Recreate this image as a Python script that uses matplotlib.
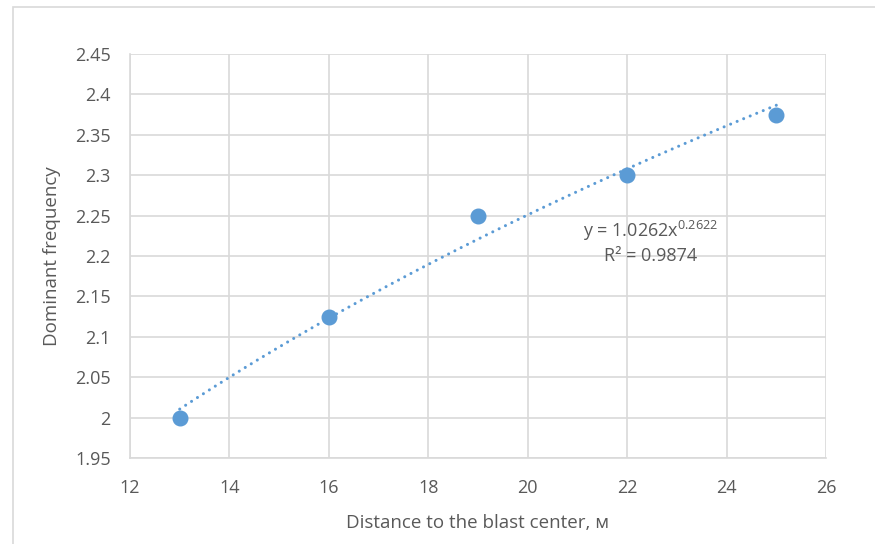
import numpy as np
import matplotlib
matplotlib.use('Agg')
import matplotlib.pyplot as plt
from matplotlib.patches import Rectangle

# data
distance = [13, 16, 19, 22, 25]
frequency = [2.0, 2.125, 2.25, 2.3, 2.375]

# power trendline as shown on the chart: y = a * x^b
trend_a = 1.0262
trend_b = 0.2622
eq_text = 'y = 1.0262x$^{0.2622}$'
r2_text = 'R² = 0.9874'

x_ticks = [12, 14, 16, 18, 20, 22, 24, 26]
y_ticks = [1.95, 2.0, 2.05, 2.1, 2.15, 2.2, 2.25, 2.3, 2.35, 2.4, 2.45]

blue = '#5b9bd5'
grid_col = '#d9d9d9'
text_col = '#595959'

plt.rcParams['font.family'] = ['Open Sans', 'DejaVu Sans']
plt.rcParams['mathtext.fontset'] = 'custom'
plt.rcParams['mathtext.rm'] = 'Open Sans'

fig = plt.figure(figsize=(8.75, 5.44), dpi=100)
ax = fig.add_axes([130 / 875, 1 - 458 / 544, 696 / 875, 404 / 544])

# outer chart border, runs off the right and bottom edges
fig.patches.append(Rectangle((13 / 875, -0.1), 1.2, 1 - 7 / 544 + 0.1,
                             transform=fig.transFigure, fill=False,
                             edgecolor=grid_col, linewidth=1.2))

xs = np.linspace(distance[0], distance[-1], 200)
ax.plot(xs, trend_a * xs ** trend_b, color=blue, linewidth=2.2,
        dashes=(0.01, 2.3), dash_capstyle='round', zorder=2)
ax.plot(distance, frequency, 'o', color=blue, markersize=10.5, zorder=3)

ax.set_xlim(12, 26)
ax.set_ylim(1.95, 2.45)
ax.set_xticks(x_ticks)
ax.set_yticks(y_ticks)
ax.set_yticklabels(['%g' % v for v in y_ticks])
ax.grid(True, color=grid_col, linewidth=1.2)
ax.set_axisbelow(True)
for s in ['top', 'right']:
    ax.spines[s].set_visible(False)
for s in ['left', 'bottom']:
    ax.spines[s].set_color(grid_col)
    ax.spines[s].set_linewidth(1.2)
ax.tick_params(length=0, labelsize=13, colors=text_col)
ax.tick_params(axis='y', pad=14)
ax.tick_params(axis='x', pad=15)

ax.text(22.48, 2.231, eq_text, ha='center', va='center', fontsize=13, color=text_col)
ax.text(22.48, 2.200, r2_text, ha='center', va='center', fontsize=13, color=text_col)

ax.set_xlabel('Distance to the blast center, м', fontsize=13.5, color=text_col, labelpad=12)
ax.set_ylabel('Dominant frequency', fontsize=13.5, color=text_col, labelpad=10)

fig.savefig('out.png', dpi=100)
